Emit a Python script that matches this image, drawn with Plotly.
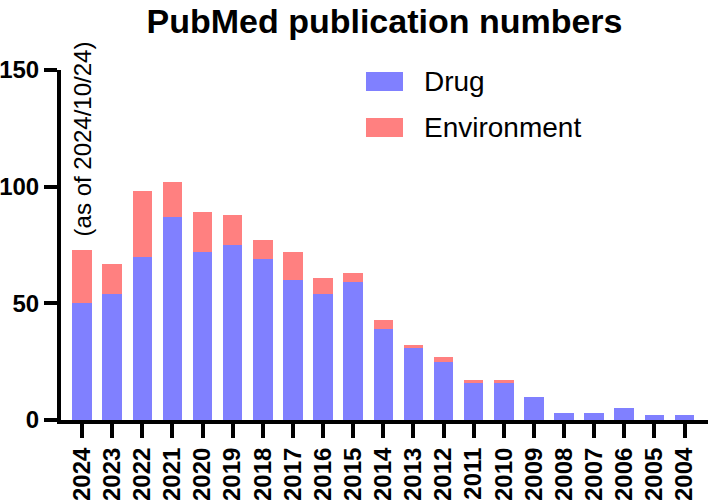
import plotly.graph_objects as go

years = ["2024", "2023", "2022", "2021", "2020", "2019", "2018", "2017", "2016", "2015",
         "2014", "2013", "2012", "2011", "2010", "2009", "2008", "2007", "2006", "2005", "2004"]
drug = [50, 54, 70, 87, 72, 75, 69, 60, 54, 59, 39, 31, 25, 16, 16, 10, 3, 3, 5, 2, 2]
environment = [23, 13, 28, 15, 17, 13, 8, 12, 7, 4, 4, 1, 2, 1, 1, 0, 0, 0, 0, 0, 0]
y_ticks = [0, 50, 100, 150]

DRUG_C = "#8080FF"
ENV_C = "#FF8080"
FONT = "Liberation Sans, Arial, sans-serif"

fig = go.Figure()
fig.add_trace(go.Bar(x=years, y=drug, name="Drug", marker=dict(color=DRUG_C, line=dict(width=0)),
                     showlegend=False))
fig.add_trace(go.Bar(x=years, y=environment, name="Environment",
                     marker=dict(color=ENV_C, line=dict(width=0)), showlegend=False))

fig.update_layout(
    width=709, height=500,
    barmode="stack", bargap=0.35,
    plot_bgcolor="white", paper_bgcolor="white",
    margin=dict(l=61, r=1, t=70, b=80),
    font=dict(family=FONT, color="black"),
    title=dict(text="<b>PubMed publication numbers</b>", x=0.5, xref="paper", xanchor="center",
               y=0.958, yref="container", yanchor="middle",
               font=dict(size=34, family=FONT, color="black")),
    xaxis=dict(type="category", categoryorder="array", categoryarray=years,
               range=[-0.7, 20.78], showline=True, linewidth=4, linecolor="black",
               ticks="outside", ticklen=14, tickwidth=4, tickcolor="black",
               tickangle=-90, tickfont=dict(size=24, family=FONT, weight="bold"),
               showgrid=False, zeroline=False, automargin=False),
    yaxis=dict(range=[0, 150], tickvals=y_ticks, ticktext=[str(v) for v in y_ticks],
               showline=True, linewidth=4, linecolor="black",
               ticks="outside", ticklen=13, tickwidth=4, tickcolor="black",
               tickfont=dict(size=24, family=FONT, weight="bold"),
               showgrid=False, zeroline=False, automargin=False),
)

fig.add_annotation(text="(as of 2024/10/24)", x=0, y=120.3, xref="x", yref="y",
                   textangle=-90, showarrow=False, font=dict(size=24, family=FONT, color="black"))

# Legend (drawn to match the reference's large swatches)
legend_items = [("Drug", DRUG_C, 0.9943, 0.94), ("Environment", ENV_C, 0.8629, 0.8086)]
for name, col, y1, y0 in legend_items:
    fig.add_shape(type="rect", xref="paper", yref="paper", x0=0.4714, x1=0.5286, y0=y0, y1=y1,
                  fillcolor=col, line=dict(width=0))
    fig.add_annotation(text=name, xref="paper", yref="paper", x=0.5575, y=(y0 + y1) / 2,
                       xanchor="left", yanchor="middle", showarrow=False,
                       font=dict(size=28, family=FONT, color="black"))

fig.write_html("out.html", config={"displayModeBar": False},
               post_script="document.body.style.margin='0';")
